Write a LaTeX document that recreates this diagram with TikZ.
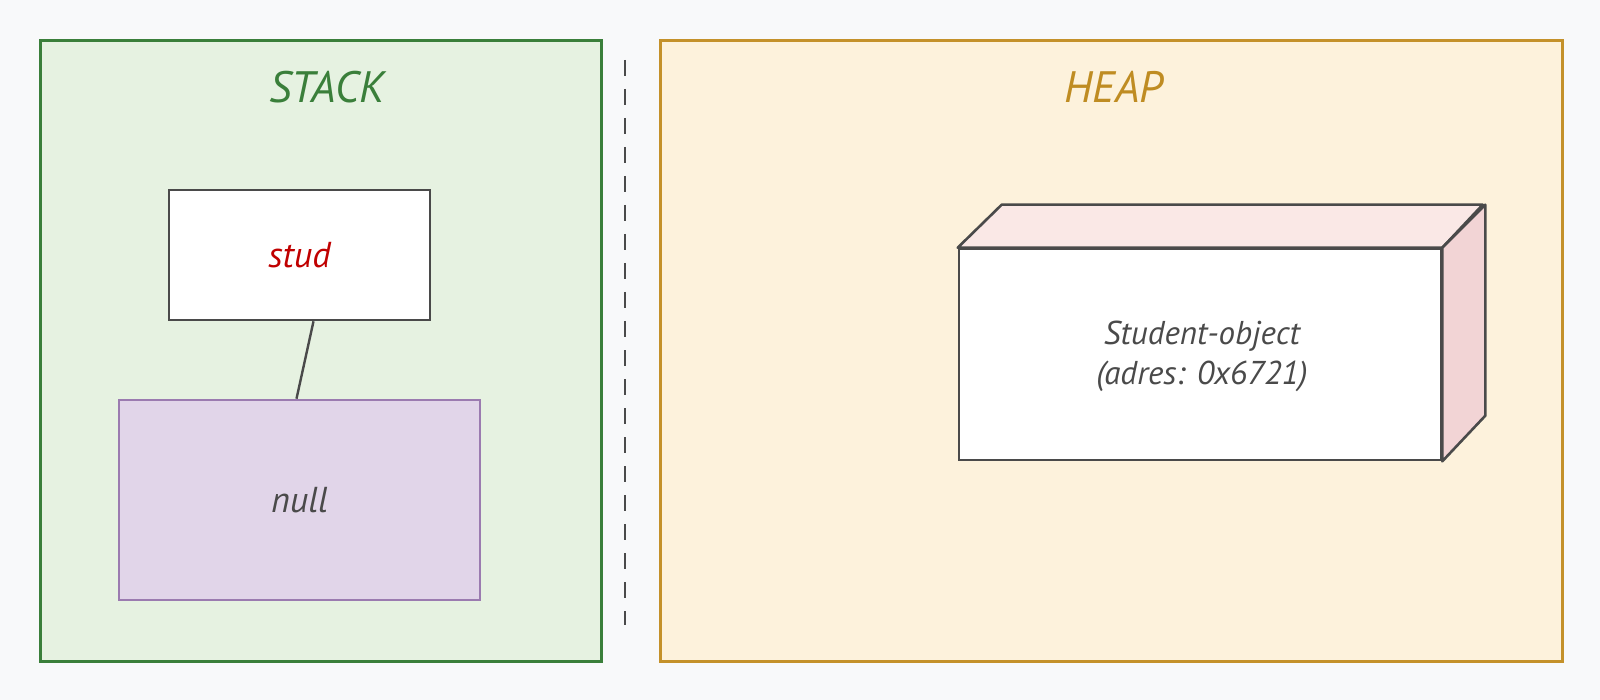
\documentclass[tikz,border=0pt]{standalone}
\usepackage{fontspec}
\setmainfont{PT Sans}
\definecolor{bgc}{HTML}{F8F9FA}
\definecolor{stackfill}{HTML}{E6F2E1}
\definecolor{stackline}{HTML}{3A7F3A}
\definecolor{heapfill}{HTML}{FDF2DC}
\definecolor{heapline}{HTML}{C4912A}
\definecolor{heaptext}{HTML}{BF8C22}
\definecolor{studred}{HTML}{C00000}
\definecolor{inkc}{HTML}{4A4A4A}
\definecolor{nullfill}{HTML}{E1D5E9}
\definecolor{nullline}{HTML}{9B7BB0}
\definecolor{topface}{HTML}{FAE8E6}
\definecolor{sideface}{HTML}{F2D4D5}
\begin{document}
\begin{tikzpicture}[x=1pt,y=-1pt,
  region/.style={draw, line width=2.6pt, minimum width=#1, inner sep=0pt, anchor=north west},
  titletext/.style={font=\fontsize{44}{48}\selectfont\itshape},
  cell/.style={draw=inkc, line width=2.6pt, inner sep=0pt},
  celltext/.style={font=\fontsize{36}{40}\selectfont\itshape}]
\useasboundingbox (0,0) rectangle (1600,700);
\fill[bgc] (0,0) rectangle (1600,700);
% regions
\node[region=561pt, minimum height=621pt, draw=stackline, fill=stackfill] (stack) at (39,39) {};
\node[region=902pt, minimum height=621pt, draw=heapline, fill=heapfill] (heap) at (659,39) {};
\node[titletext, text=stackline] (stacklbl) at (327,87) {STACK};
\node[titletext, text=heaptext] (heaplbl) at (1114,87) {HEAP};
% divider
\coordinate (dtop) at (625,60);
\coordinate (dbot) at (625,625);
\draw[inkc, line width=2.4pt, dash pattern=on 16pt off 13pt] (dtop) -- (dbot);
% stack cells
\node[cell, fill=white, minimum width=261pt, minimum height=130pt] (stud) at (299.5,255) {};
\node[celltext, text=studred] at (stud.center) {stud};
\node[cell, draw=nullline, fill=nullfill, minimum width=361pt, minimum height=200pt] (null) at (299.5,500) {};
\node[celltext, text=inkc] at (null.center) {null};
\draw[inkc, line width=2.4pt] ([xshift=14pt]stud.south) -- ([xshift=-3pt]null.north);
% heap object (cuboid)
\node[cell, fill=white, minimum width=482pt, minimum height=211pt] (obj) at (1200,354.5) {};
\filldraw[fill=topface, draw=inkc, line width=2.6pt, line join=round]
  (obj.north west) -- ++(44,-43) -- ++(481,0) -- (obj.north east) -- cycle;
\filldraw[fill=sideface, draw=inkc, line width=2.6pt, line join=round]
  (obj.north east) -- ++(43,-43) -- ++(0,211) -- (obj.south east) -- cycle;
\node[align=center, text=inkc, font=\fontsize{33}{40}\selectfont\itshape] (objlbl) at (1202,356) {Student-object\\(adres: 0x6721)};
\end{tikzpicture}
\end{document}
